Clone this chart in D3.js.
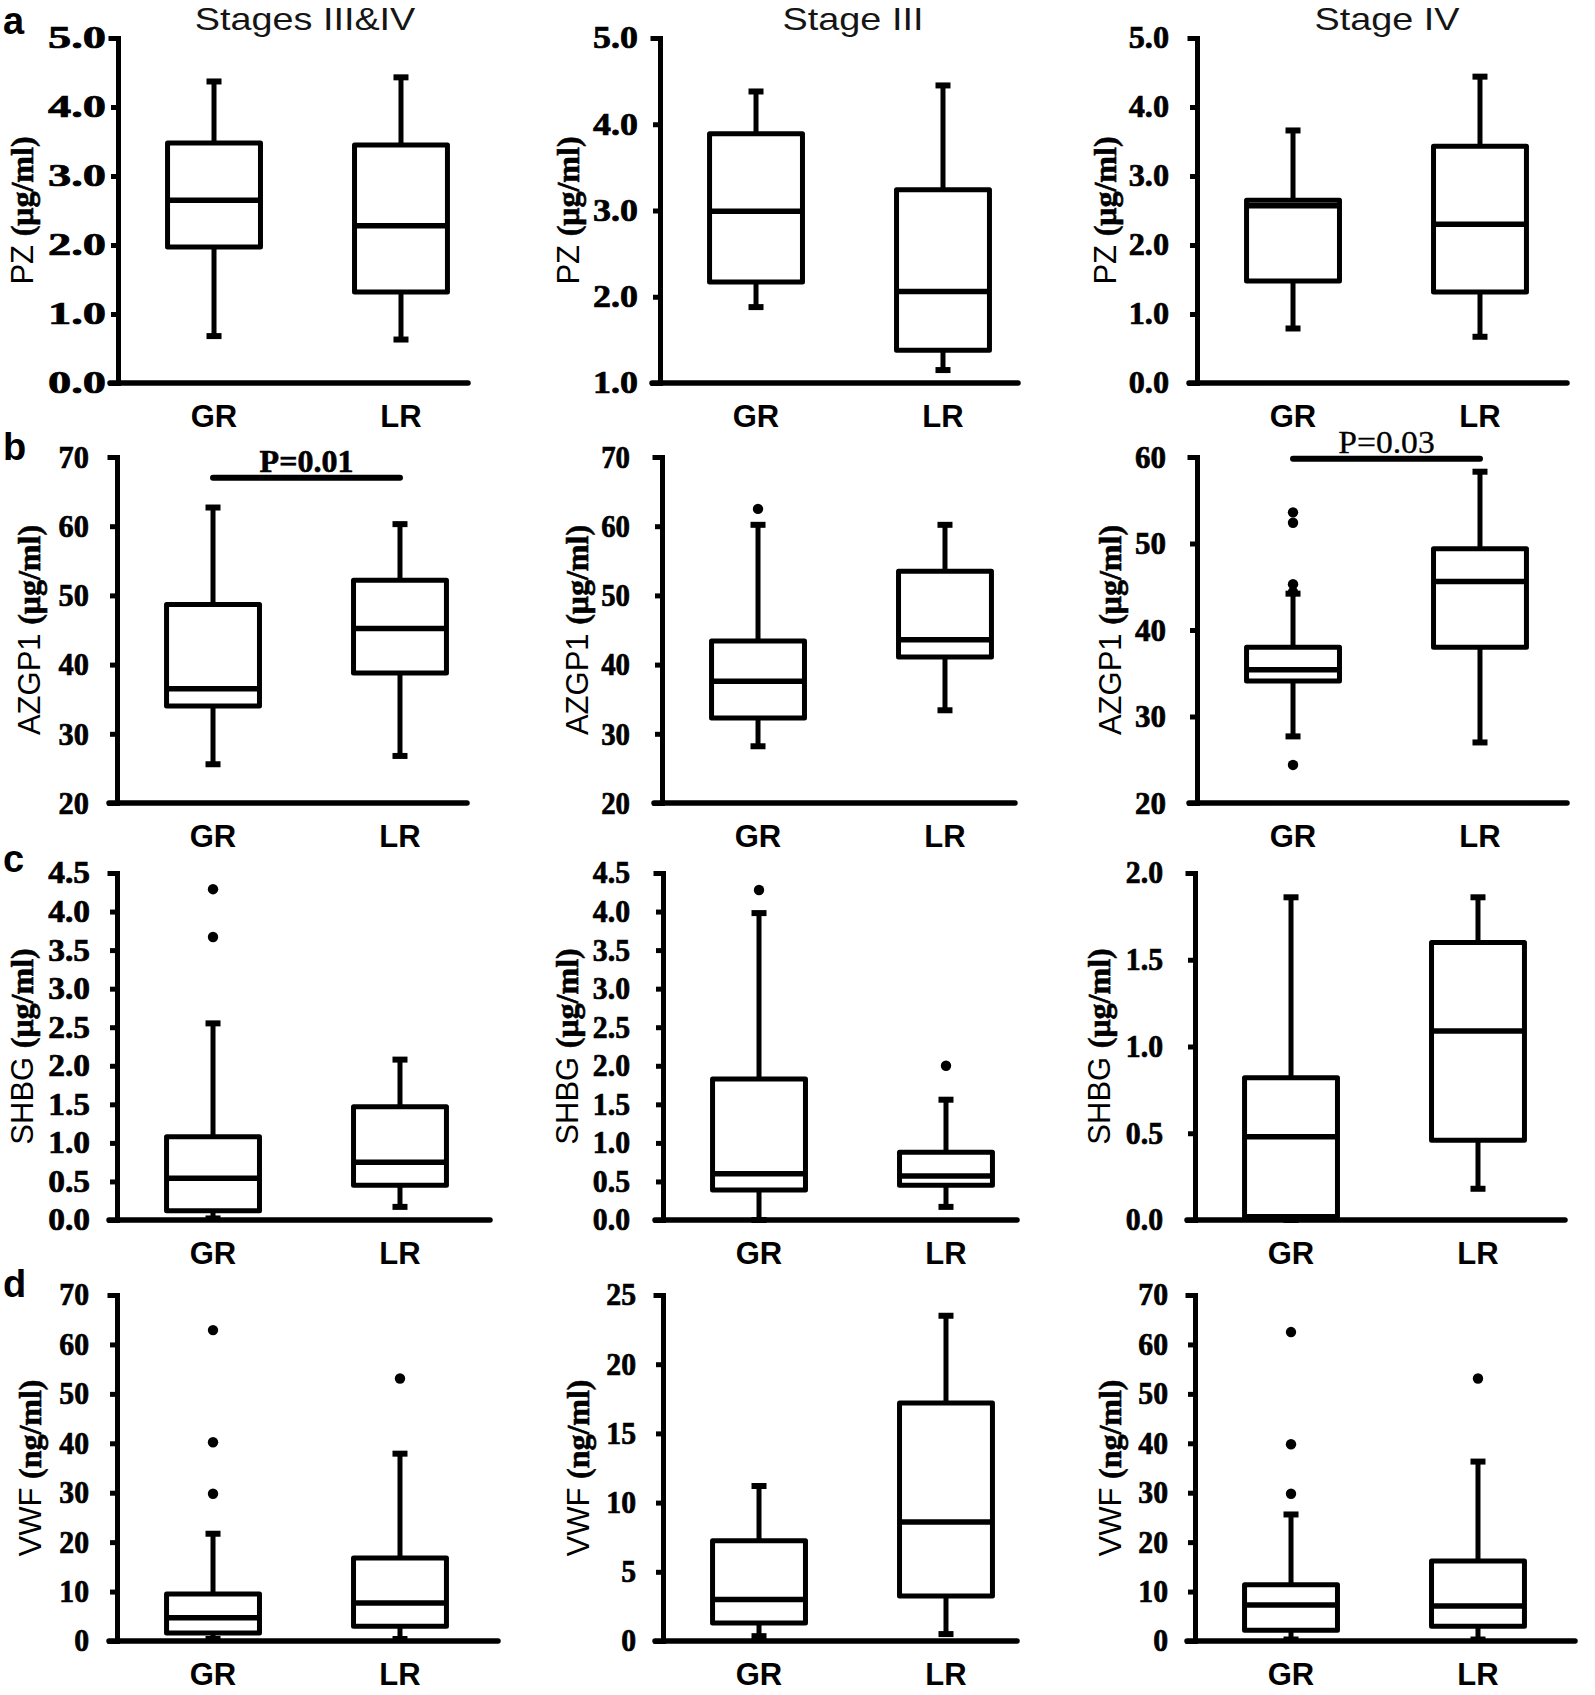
<!DOCTYPE html>
<html><head><meta charset="utf-8">
<script src="https://cdn.jsdelivr.net/npm/d3@7"></script>
<style>body{margin:0;background:#fff}</style>
</head><body>
<svg id="chart" width="1595" height="1695"></svg>
<script>
// ---------- data ----------
const stages = ["Stages III&IV", "Stage III", "Stage IV"];
const groups = ["GR", "LR"];
const markers = ["PZ", "AZGP1", "SHBG", "VWF"];
const units = ["(μg/ml)", "(μg/ml)", "(μg/ml)", "(ng/ml)"];
const panelLetters = ["a", "b", "c", "d"];

// box stats per stage: [whiskerLow, Q1, median, Q3, whiskerHigh]
const pzGR = [[0.68, 1.97, 2.65, 3.48, 4.37], [1.88, 2.17, 2.99, 3.89, 4.38], [0.79, 1.48, 2.57, 2.65, 3.66]];
const pzLR = [[0.63, 1.32, 2.28, 3.45, 4.43], [1.15, 1.38, 2.06, 3.24, 4.45], [0.67, 1.32, 2.30, 3.43, 4.44]];
const azgp1GR = [[25.6, 34.0, 36.5, 48.7, 62.7], [28.2, 32.3, 37.6, 43.4, 60.2], [27.7, 34.1, 35.4, 38.0, 44.2]];
const azgp1LR = [[26.8, 38.8, 45.2, 52.2, 60.3], [33.4, 41.1, 43.6, 53.5, 60.2], [27.0, 38.0, 45.6, 49.4, 58.3]];
const shbgGR = [[0.02, 0.12, 0.54, 1.08, 2.55], [0.0, 0.39, 0.60, 1.83, 3.98], [0.0, 0.02, 0.48, 0.82, 1.86]];
const shbgLR = [[0.17, 0.45, 0.75, 1.47, 2.08], [0.17, 0.45, 0.57, 0.88, 1.56], [0.18, 0.46, 1.09, 1.60, 1.86]];
const vwfGR = [[0.4, 1.6, 4.7, 9.5, 21.7], [0.35, 1.3, 3.0, 7.25, 11.2], [0.3, 2.2, 7.3, 11.4, 25.6]];
const vwfLR = [[0.4, 3.0, 7.7, 16.8, 37.9], [0.5, 3.26, 8.6, 17.2, 23.5], [0.3, 3.0, 7.1, 16.2, 36.3]];

// outliers per stage
const pzGROut = [[], [], []];
const pzLROut = [[], [], []];
const azgp1GROut = [[], [62.5], [24.4, 44.4, 45.3, 52.4, 53.6]];
const azgp1LROut = [[], [], []];
const shbgGROut = [[3.67, 4.29], [4.28], []];
const shbgLROut = [[], [2.0], []];
const vwfGROut = [[29.8, 40.2, 62.9], [], [29.8, 39.8, 62.5]];
const vwfLROut = [[53.1], [], [53.1]];

// y axis domains and tick labels
const yDomains = [[[0, 5], [1, 5], [0, 5]], [[20, 70], [20, 70], [20, 60]], [[0, 4.5], [0, 4.5], [0, 2]], [[0, 70], [0, 25], [0, 70]]];
const yTickLabels = [
  [["0.0","1.0","2.0","3.0","4.0","5.0"], ["1.0","2.0","3.0","4.0","5.0"], ["0.0","1.0","2.0","3.0","4.0","5.0"]],
  [["20","30","40","50","60","70"], ["20","30","40","50","60","70"], ["20","30","40","50","60"]],
  [["0.0","0.5","1.0","1.5","2.0","2.5","3.0","3.5","4.0","4.5"], ["0.0","0.5","1.0","1.5","2.0","2.5","3.0","3.5","4.0","4.5"], ["0.0","0.5","1.0","1.5","2.0"]],
  [["0","10","20","30","40","50","60","70"], ["0","5","10","15","20","25"], ["0","10","20","30","40","50","60","70"]]
];

// significance annotations
const pRows = [1, 1];
const pCols = [0, 2];
const pLabels = ["P=0.01", "P=0.03"];
const pValuesY = [67, 59.8];

// ---------- layout ----------
const axisX = [[118, 660, 1197], [117, 662, 1197], [117, 663, 1195], [117, 663, 1195]];
const rowTop = [38, 457, 873, 1295];
const rowBottom = [383, 803, 1220, 1641];
const xAxisLen = [[350, 358, 370], [350, 353, 370], [373, 354, 370], [381, 354, 380]];
const labelScale = [[1.5, 1.16, 1.04], [0.95, 0.9, 0.97], [1.08, 0.96, 0.96], [0.96, 0.96, 0.96]];
const labelGap = [[12, 22, 28], [28, 32, 31], [27, 33, 32], [28, 27, 27]];
const labelSize = [31, 32, 31, 31];
const yTitleOffset = [[-96, -92, -92], [-88, -85, -87], [-95, -96, -96], [-87, -85, -85]];
const stageTitleX = [305, 853, 1387];
const letterBaseline = [34, 460, 872, 1297];

const statsByRow = [[pzGR, pzLR], [azgp1GR, azgp1LR], [shbgGR, shbgLR], [vwfGR, vwfLR]];
const outByRow = [[pzGROut, pzLROut], [azgp1GROut, azgp1LROut], [shbgGROut, shbgLROut], [vwfGROut, vwfLROut]];

const SANS = "'Liberation Sans', Arial, sans-serif";
const SERIF = "'Liberation Serif', 'Times New Roman', serif";
const SW = 5;

const svg = d3.select("#chart");
svg.append("rect").attr("width", 1595).attr("height", 1695).attr("fill", "#fff");

// stage titles
stages.forEach((s, c) => {
  svg.append("text")
    .attr("transform", `translate(${stageTitleX[c]},30) scale(1.22,1)`)
    .attr("text-anchor", "middle")
    .attr("font-family", SANS).attr("font-size", 31).attr("fill", "#151515")
    .text(s);
});

// panel letters
panelLetters.forEach((l, r) => {
  svg.append("text").attr("x", 3).attr("y", letterBaseline[r])
    .attr("font-family", SANS).attr("font-weight", "bold").attr("font-size", 38).attr("fill", "#000")
    .text(l);
});

for (let r = 0; r < 4; r++) {
  for (let c = 0; c < 3; c++) {
    const x0 = axisX[r][c];
    const g = svg.append("g").attr("transform", `translate(${x0},0)`);
    const y = d3.scaleLinear().domain(yDomains[r][c]).range([rowBottom[r], rowTop[r]]);
    const x = d3.scaleBand().domain(groups).range([0, 379]).paddingInner(0.503).paddingOuter(0.265);
    const labels = yTickLabels[r][c];
    const tickVals = labels.map(Number);

    // y axis
    const ax = g.append("g").call(
      d3.axisLeft(y).tickValues(tickVals).tickFormat((d, i) => labels[i]).tickSizeOuter(0).tickSize(7)
    );
    ax.select(".domain").attr("stroke", "#000").attr("stroke-width", SW).attr("stroke-linecap", "square");
    ax.selectAll(".tick line").attr("stroke", "#000").attr("stroke-width", SW);
    ax.selectAll(".tick text")
      .attr("x", 0)
      .attr("transform", `translate(${-labelGap[r][c]},0) scale(${labelScale[r][c]},1)`)
      .attr("font-family", SERIF).attr("font-weight", "bold")
      .attr("font-size", labelSize[r]).attr("fill", "#000")
      .attr("stroke", "#000").attr("stroke-width", 0.7);

    // x axis line
    g.append("line")
      .attr("x1", -8).attr("x2", xAxisLen[r][c])
      .attr("y1", y(yDomains[r][c][0])).attr("y2", y(yDomains[r][c][0]))
      .attr("stroke", "#000").attr("stroke-width", SW + 0.5).attr("stroke-linecap", "round");

    // x labels
    groups.forEach(gr => {
      g.append("text")
        .attr("x", x(gr) + x.bandwidth() / 2).attr("y", rowBottom[r] + 44)
        .attr("text-anchor", "middle")
        .attr("font-family", SANS).attr("font-weight", "bold").attr("font-size", 31).attr("fill", "#000")
        .text(gr);
    });

    // y title
    const t = svg.append("text")
      .attr("transform", `translate(${x0 + yTitleOffset[r][c]},${(rowTop[r] + rowBottom[r]) / 2}) rotate(-90)`)
      .attr("text-anchor", "middle").attr("dominant-baseline", "central").attr("fill", "#000");
    t.append("tspan").attr("font-family", SANS).attr("font-size", 31).text(markers[r] + " ");
    t.append("tspan").attr("font-family", SERIF).attr("font-weight", "bold").attr("font-size", 32)
      .attr("stroke", "#000").attr("stroke-width", 0.6).text(units[r]);

    // boxes
    groups.forEach((gr, gi) => {
      const s = statsByRow[r][gi][c];
      const [lo, q1, med, q3, hi] = s;
      const bx = x(gr), bw = x.bandwidth(), cx = bx + bw / 2;
      const bg = g.append("g");
      bg.append("line").attr("x1", cx).attr("x2", cx).attr("y1", y(hi)).attr("y2", y(q3))
        .attr("stroke", "#000").attr("stroke-width", SW);
      bg.append("line").attr("x1", cx).attr("x2", cx).attr("y1", y(q1)).attr("y2", y(lo))
        .attr("stroke", "#000").attr("stroke-width", SW);
      [lo, hi].forEach(v => {
        bg.append("line").attr("x1", cx - 7.5).attr("x2", cx + 7.5).attr("y1", y(v)).attr("y2", y(v))
          .attr("stroke", "#000").attr("stroke-width", 6);
      });
      bg.append("rect").attr("x", bx).attr("y", y(q3)).attr("width", bw).attr("height", y(q1) - y(q3))
        .attr("fill", "#fff").attr("stroke", "#000").attr("stroke-width", SW).attr("stroke-linejoin", "round");
      bg.append("line").attr("x1", bx).attr("x2", bx + bw).attr("y1", y(med)).attr("y2", y(med))
        .attr("stroke", "#000").attr("stroke-width", SW + 0.5);
      outByRow[r][gi][c].forEach(v => {
        bg.append("circle").attr("cx", cx).attr("cy", y(v)).attr("r", 5.2).attr("fill", "#000");
      });
    });

    // significance bars
    pRows.forEach((pr, k) => {
      if (pr !== r || pCols[k] !== c) return;
      const xa = x("GR") + x.bandwidth() / 2, xb = x("LR") + x.bandwidth() / 2;
      const yy = y(pValuesY[k]);
      g.append("line").attr("x1", xa).attr("x2", xb).attr("y1", yy).attr("y2", yy)
        .attr("stroke", "#000").attr("stroke-width", 6).attr("stroke-linecap", "round");
      g.append("text")
        .attr("transform", `translate(${(xa + xb) / 2},${yy - 6}) scale(${k === 0 ? 1.0 : 1.05},1)`)
        .attr("text-anchor", "middle")
        .attr("font-family", SERIF).attr("font-weight", k === 0 ? "bold" : "normal")
        .attr("font-size", 32).attr("fill", "#000")
        .attr("stroke", "#000").attr("stroke-width", k === 0 ? 0.6 : 0.3)
        .text(pLabels[k]);
    });
  }
}
</script>
</body></html>
